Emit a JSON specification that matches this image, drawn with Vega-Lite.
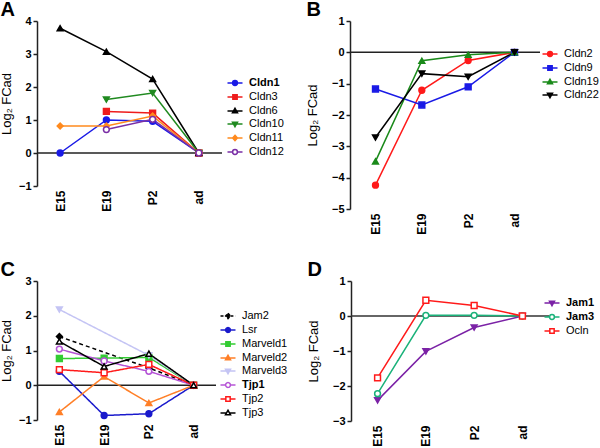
{
  "$schema": "https://vega.github.io/schema/vega-lite/v6.json",
  "padding": {"left": 0, "top": 0, "right": 0, "bottom": 0},
  "background": "white",
  "datasets": {
    "A": [
      {"series": "Cldn1", "stage": "E15", "value": 0},
      {"series": "Cldn1", "stage": "E19", "value": 1.0},
      {"series": "Cldn1", "stage": "P2", "value": 0.96},
      {"series": "Cldn1", "stage": "ad", "value": 0},
      {"series": "Cldn3", "stage": "E19", "value": 1.26},
      {"series": "Cldn3", "stage": "P2", "value": 1.21},
      {"series": "Cldn3", "stage": "ad", "value": 0},
      {"series": "Cldn6", "stage": "E15", "value": 3.78},
      {"series": "Cldn6", "stage": "E19", "value": 3.07},
      {"series": "Cldn6", "stage": "P2", "value": 2.24},
      {"series": "Cldn6", "stage": "ad", "value": 0},
      {"series": "Cldn10", "stage": "E19", "value": 1.62},
      {"series": "Cldn10", "stage": "P2", "value": 1.82},
      {"series": "Cldn10", "stage": "ad", "value": 0},
      {"series": "Cldn11", "stage": "E15", "value": 0.82},
      {"series": "Cldn11", "stage": "E19", "value": 0.82},
      {"series": "Cldn11", "stage": "P2", "value": 1.12},
      {"series": "Cldn11", "stage": "ad", "value": 0},
      {"series": "Cldn12", "stage": "E19", "value": 0.71},
      {"series": "Cldn12", "stage": "P2", "value": 1.02},
      {"series": "Cldn12", "stage": "ad", "value": 0}
    ],
    "B": [
      {"series": "Cldn2", "stage": "E15", "value": -4.24},
      {"series": "Cldn2", "stage": "E19", "value": -1.21},
      {"series": "Cldn2", "stage": "P2", "value": -0.26},
      {"series": "Cldn2", "stage": "ad", "value": 0},
      {"series": "Cldn9", "stage": "E15", "value": -1.17},
      {"series": "Cldn9", "stage": "E19", "value": -1.68},
      {"series": "Cldn9", "stage": "P2", "value": -1.1},
      {"series": "Cldn9", "stage": "ad", "value": 0},
      {"series": "Cldn19", "stage": "E15", "value": -3.48},
      {"series": "Cldn19", "stage": "E19", "value": -0.27},
      {"series": "Cldn19", "stage": "P2", "value": -0.08},
      {"series": "Cldn19", "stage": "ad", "value": 0},
      {"series": "Cldn22", "stage": "E15", "value": -2.72},
      {"series": "Cldn22", "stage": "E19", "value": -0.68},
      {"series": "Cldn22", "stage": "P2", "value": -0.78},
      {"series": "Cldn22", "stage": "ad", "value": 0}
    ],
    "C": [
      {"series": "Jam2", "stage": "E15", "value": 1.4},
      {"series": "Jam2", "stage": "P2", "value": 0.5},
      {"series": "Jam2", "stage": "ad", "value": 0},
      {"series": "Lsr", "stage": "E15", "value": 0.4},
      {"series": "Lsr", "stage": "E19", "value": -0.87},
      {"series": "Lsr", "stage": "P2", "value": -0.82},
      {"series": "Lsr", "stage": "ad", "value": 0},
      {"series": "Marveld1", "stage": "E15", "value": 0.77},
      {"series": "Marveld1", "stage": "E19", "value": 0.78},
      {"series": "Marveld1", "stage": "P2", "value": 0.8},
      {"series": "Marveld1", "stage": "ad", "value": 0},
      {"series": "Marveld2", "stage": "E15", "value": -0.77},
      {"series": "Marveld2", "stage": "E19", "value": 0.25},
      {"series": "Marveld2", "stage": "P2", "value": -0.51},
      {"series": "Marveld2", "stage": "ad", "value": 0},
      {"series": "Marveld3", "stage": "E15", "value": 2.18},
      {"series": "Marveld3", "stage": "P2", "value": 0.86},
      {"series": "Marveld3", "stage": "ad", "value": 0},
      {"series": "Tjp1", "stage": "E15", "value": 1.04},
      {"series": "Tjp1", "stage": "E19", "value": 0.7},
      {"series": "Tjp1", "stage": "P2", "value": 0.4},
      {"series": "Tjp1", "stage": "ad", "value": 0},
      {"series": "Tjp2", "stage": "E15", "value": 0.45},
      {"series": "Tjp2", "stage": "E19", "value": 0.36},
      {"series": "Tjp2", "stage": "P2", "value": 0.6},
      {"series": "Tjp2", "stage": "ad", "value": 0},
      {"series": "Tjp3", "stage": "E15", "value": 1.26},
      {"series": "Tjp3", "stage": "E19", "value": 0.54},
      {"series": "Tjp3", "stage": "P2", "value": 0.91},
      {"series": "Tjp3", "stage": "ad", "value": 0}
    ],
    "D": [
      {"series": "Jam1", "stage": "E15", "value": -2.41},
      {"series": "Jam1", "stage": "E19", "value": -1.01},
      {"series": "Jam1", "stage": "P2", "value": -0.33},
      {"series": "Jam1", "stage": "ad", "value": 0},
      {"series": "Jam3", "stage": "E15", "value": -2.22},
      {"series": "Jam3", "stage": "E19", "value": 0.02},
      {"series": "Jam3", "stage": "P2", "value": 0.02},
      {"series": "Jam3", "stage": "ad", "value": 0},
      {"series": "Ocln", "stage": "E15", "value": -1.77},
      {"series": "Ocln", "stage": "E19", "value": 0.45},
      {"series": "Ocln", "stage": "P2", "value": 0.3},
      {"series": "Ocln", "stage": "ad", "value": 0}
    ]
  },
  "spacing": 25,
  "resolve": {"scale": {"color": "independent", "shape": "independent", "fill": "independent", "stroke": "independent", "strokeDash": "independent"}, "legend": {"color": "independent", "shape": "independent", "fill": "independent", "stroke": "independent", "strokeDash": "independent"}},
  "vconcat": [
    {
      "spacing": 22,
      "resolve": {"scale": {"color": "independent", "shape": "independent", "fill": "independent", "stroke": "independent", "strokeDash": "independent"}, "legend": {"color": "independent", "shape": "independent", "fill": "independent", "stroke": "independent", "strokeDash": "independent"}},
      "hconcat": [
        {
          "width": 185,
          "height": 165,
          "title": {"text": "A"},
          "resolve": {"scale": {"shape": "independent", "fill": "independent", "stroke": "independent"}, "legend": {"shape": "independent", "fill": "independent", "stroke": "independent"}},
          "layer": [
            {
              "data": {"values": [{}]},
              "mark": {"type": "rule", "color": "#222", "strokeWidth": 1.5},
              "encoding": {"y": {"datum": 0, "type": "quantitative", "scale": {"domain": [-1, 4], "nice": false, "zero": false}, "axis": {"values": [-1, 0, 1, 2, 3, 4], "tickCount": 20, "format": "d", "title": "Log₂ FCad", "titleFontSize": 13, "labelOverlap": false, "labelBound": false}}}
            },
            {
              "data": {"name": "A"},
              "mark": {"type": "line", "strokeWidth": 1.5},
              "encoding": {
                "x": {"field": "stage", "type": "ordinal", "scale": {"type": "point", "domain": ["E15", "E19", "P2", "ad"], "padding": 0.5}, "axis": {"title": null}},
                "y": {"field": "value", "type": "quantitative", "scale": {"domain": [-1, 4], "nice": false, "zero": false}, "axis": {"values": [-1, 0, 1, 2, 3, 4], "tickCount": 20, "format": "d", "title": "Log₂ FCad", "titleFontSize": 13, "labelOverlap": false, "labelBound": false}},
                "color": {"field": "series", "type": "nominal", "scale": {"domain": ["Cldn1", "Cldn3", "Cldn6", "Cldn10", "Cldn11", "Cldn12"], "range": ["#1a1ae6", "#ee1c1c", "#000000", "#208a20", "#ff8a1e", "#7a2ea6"]}, "legend": null}
              }
            },
            {
              "data": {"name": "A"},
              "mark": {"type": "point", "filled": true, "opacity": 1, "size": 34, "strokeWidth": 1.5},
              "encoding": {
                "x": {"field": "stage", "type": "ordinal"},
                "y": {"field": "value", "type": "quantitative"},
                "shape": {"field": "series", "type": "nominal", "scale": {"domain": ["Cldn1", "Cldn3", "Cldn6", "Cldn10", "Cldn11", "Cldn12"], "range": ["circle", "square", "triangle-up", "triangle-down", "diamond", "circle"]}, "legend": null},
                "stroke": {"field": "series", "type": "nominal", "scale": {"domain": ["Cldn1", "Cldn3", "Cldn6", "Cldn10", "Cldn11", "Cldn12"], "range": ["#1a1ae6", "#ee1c1c", "#000000", "#208a20", "#ff8a1e", "#7a2ea6"]}, "legend": null},
                "fill": {"field": "series", "type": "nominal", "scale": {"domain": ["Cldn1", "Cldn3", "Cldn6", "Cldn10", "Cldn11", "Cldn12"], "range": ["#1a1ae6", "#ee1c1c", "#000000", "#208a20", "#ff8a1e", "white"]}, "legend": null}
              }
            },
            {
              "data": {"name": "A"},
              "mark": {"type": "point", "filled": true, "opacity": 0},
              "encoding": {
                "x": {"field": "stage", "type": "ordinal"},
                "y": {"field": "value", "type": "quantitative"},
                "shape": {"field": "series", "type": "nominal", "scale": {"domain": ["Cldn1", "Cldn3", "Cldn6", "Cldn10", "Cldn11", "Cldn12"], "range": ["M-1.25,0H-0.4M0.4,0H1.25M-0.4,0A0.4 0.4 0 1 0 0.4,0A0.4 0.4 0 1 0 -0.4,0Z", "M-1.25,0H-0.36M0.36,0H1.25M-0.36,-0.36H0.36V0.36H-0.36Z", "M-1.25,0H-0.3M0.3,0H1.25M0,-0.45L0.42,0.3H-0.42Z", "M-1.25,0H-0.3M0.3,0H1.25M0,0.45L0.42,-0.3H-0.42Z", "M-1.25,0H-0.4M0.4,0H1.25M0,-0.45L0.4,0L0,0.45L-0.4,0Z", "M-1.25,0H-0.4M0.4,0H1.25M-0.4,0A0.4 0.4 0 1 0 0.4,0A0.4 0.4 0 1 0 -0.4,0Z"]},
                  "legend": {"orient": "none", "legendX": 191, "legendY": 55, "symbolOpacity": 1, "encode": {"labels": {"update": {"fontWeight": {"signal": "datum.value === 'Cldn1' ? 'bold' : 'normal'"}}}}}},
                "stroke": {"field": "series", "type": "nominal", "scale": {"domain": ["Cldn1", "Cldn3", "Cldn6", "Cldn10", "Cldn11", "Cldn12"], "range": ["#1a1ae6", "#ee1c1c", "#000000", "#208a20", "#ff8a1e", "#7a2ea6"]},
                  "legend": {"orient": "none", "legendX": 191, "legendY": 55, "symbolOpacity": 1, "encode": {"labels": {"update": {"fontWeight": {"signal": "datum.value === 'Cldn1' ? 'bold' : 'normal'"}}}}}},
                "fill": {"field": "series", "type": "nominal", "scale": {"domain": ["Cldn1", "Cldn3", "Cldn6", "Cldn10", "Cldn11", "Cldn12"], "range": ["#1a1ae6", "#ee1c1c", "#000000", "#208a20", "#ff8a1e", "white"]},
                  "legend": {"orient": "none", "legendX": 191, "legendY": 55, "symbolOpacity": 1, "encode": {"labels": {"update": {"fontWeight": {"signal": "datum.value === 'Cldn1' ? 'bold' : 'normal'"}}}}}}
              }
            }
          ]
        },
        {
          "width": 190,
          "height": 188,
          "title": {"text": "B"},
          "resolve": {"scale": {"shape": "independent", "fill": "independent", "stroke": "independent"}, "legend": {"shape": "independent", "fill": "independent", "stroke": "independent"}},
          "layer": [
            {
              "data": {"values": [{}]},
              "mark": {"type": "rule", "color": "#222", "strokeWidth": 1.5},
              "encoding": {"y": {"datum": 0, "type": "quantitative", "scale": {"domain": [-5, 1], "nice": false, "zero": false}, "axis": {"values": [-5, -4, -3, -2, -1, 0, 1], "tickCount": 20, "format": "d", "title": "Log₂ FCad", "titleFontSize": 13, "titlePadding": 12, "labelOverlap": false, "labelBound": false}}}
            },
            {
              "data": {"name": "B"},
              "mark": {"type": "line", "strokeWidth": 1.5},
              "encoding": {
                "x": {"field": "stage", "type": "ordinal", "scale": {"type": "point", "domain": ["E15", "E19", "P2", "ad"], "padding": 0.55}, "axis": {"title": null}},
                "y": {"field": "value", "type": "quantitative", "scale": {"domain": [-5, 1], "nice": false, "zero": false}, "axis": {"values": [-5, -4, -3, -2, -1, 0, 1], "tickCount": 20, "format": "d", "title": "Log₂ FCad", "titleFontSize": 13, "titlePadding": 12, "labelOverlap": false, "labelBound": false}},
                "color": {"field": "series", "type": "nominal", "scale": {"domain": ["Cldn2", "Cldn9", "Cldn19", "Cldn22"], "range": ["#ff1a1a", "#1a1ae6", "#1a8a1a", "#000000"]}, "legend": null}
              }
            },
            {
              "data": {"name": "B"},
              "mark": {"type": "point", "filled": true, "opacity": 1, "size": 34, "strokeWidth": 1.5},
              "encoding": {
                "x": {"field": "stage", "type": "ordinal"},
                "y": {"field": "value", "type": "quantitative"},
                "shape": {"field": "series", "type": "nominal", "scale": {"domain": ["Cldn2", "Cldn9", "Cldn19", "Cldn22"], "range": ["circle", "square", "triangle-up", "triangle-down"]}, "legend": null},
                "stroke": {"field": "series", "type": "nominal", "scale": {"domain": ["Cldn2", "Cldn9", "Cldn19", "Cldn22"], "range": ["#ff1a1a", "#1a1ae6", "#1a8a1a", "#000000"]}, "legend": null},
                "fill": {"field": "series", "type": "nominal", "scale": {"domain": ["Cldn2", "Cldn9", "Cldn19", "Cldn22"], "range": ["#ff1a1a", "#1a1ae6", "#1a8a1a", "#000000"]}, "legend": null}
              }
            },
            {
              "data": {"name": "B"},
              "mark": {"type": "point", "filled": true, "opacity": 0},
              "encoding": {
                "x": {"field": "stage", "type": "ordinal"},
                "y": {"field": "value", "type": "quantitative"},
                "shape": {"field": "series", "type": "nominal", "scale": {"domain": ["Cldn2", "Cldn9", "Cldn19", "Cldn22"], "range": ["M-1.25,0H-0.4M0.4,0H1.25M-0.4,0A0.4 0.4 0 1 0 0.4,0A0.4 0.4 0 1 0 -0.4,0Z", "M-1.25,0H-0.36M0.36,0H1.25M-0.36,-0.36H0.36V0.36H-0.36Z", "M-1.25,0H-0.3M0.3,0H1.25M0,-0.45L0.42,0.3H-0.42Z", "M-1.25,0H-0.3M0.3,0H1.25M0,0.45L0.42,-0.3H-0.42Z"]},
                  "legend": {"orient": "none", "legendX": 193, "legendY": 26, "symbolOpacity": 1}},
                "stroke": {"field": "series", "type": "nominal", "scale": {"domain": ["Cldn2", "Cldn9", "Cldn19", "Cldn22"], "range": ["#ff1a1a", "#1a1ae6", "#1a8a1a", "#000000"]},
                  "legend": {"orient": "none", "legendX": 193, "legendY": 26, "symbolOpacity": 1}},
                "fill": {"field": "series", "type": "nominal", "scale": {"domain": ["Cldn2", "Cldn9", "Cldn19", "Cldn22"], "range": ["#ff1a1a", "#1a1ae6", "#1a8a1a", "#000000"]},
                  "legend": {"orient": "none", "legendX": 193, "legendY": 26, "symbolOpacity": 1}}
              }
            }
          ]
        }
      ]
    },
    {
      "spacing": 19,
      "resolve": {"scale": {"color": "independent", "shape": "independent", "fill": "independent", "stroke": "independent", "strokeDash": "independent"}, "legend": {"color": "independent", "shape": "independent", "fill": "independent", "stroke": "independent", "strokeDash": "independent"}},
      "hconcat": [
        {
          "width": 179,
          "height": 139,
          "title": {"text": "C"},
          "resolve": {"scale": {"shape": "independent", "fill": "independent", "stroke": "independent", "strokeDash": "independent"}, "legend": {"shape": "independent", "fill": "independent", "stroke": "independent", "strokeDash": "independent"}},
          "layer": [
            {
              "data": {"values": [{}]},
              "mark": {"type": "rule", "color": "#222", "strokeWidth": 1.5},
              "encoding": {"y": {"datum": 0, "type": "quantitative", "scale": {"domain": [-1, 3], "nice": false, "zero": false}, "axis": {"values": [-1, 0, 1, 2, 3], "tickCount": 20, "format": "d", "title": "Log₂ FCad", "titleFontSize": 13, "labelOverlap": false, "labelBound": false}}}
            },
            {
              "data": {"name": "C"},
              "mark": {"type": "line", "strokeWidth": 1.5},
              "encoding": {
                "x": {"field": "stage", "type": "ordinal", "scale": {"type": "point", "domain": ["E15", "E19", "P2", "ad"], "padding": 0.5}, "axis": {"title": null}},
                "y": {"field": "value", "type": "quantitative", "scale": {"domain": [-1, 3], "nice": false, "zero": false}, "axis": {"values": [-1, 0, 1, 2, 3], "tickCount": 20, "format": "d", "title": "Log₂ FCad", "titleFontSize": 13, "labelOverlap": false, "labelBound": false}},
                "strokeDash": {"condition": {"test": "datum.series === 'Jam2'", "value": [4, 3]}, "value": [1, 0]},
                "color": {"field": "series", "type": "nominal", "scale": {"domain": ["Jam2", "Lsr", "Marveld1", "Marveld2", "Marveld3", "Tjp1", "Tjp2", "Tjp3"], "range": ["#000000", "#1a1acc", "#33cc33", "#ff7f27", "#c4c4f4", "#b554d6", "#ff1a1a", "#000000"]}, "legend": null}
              }
            },
            {
              "data": {"name": "C"},
              "mark": {"type": "point", "filled": true, "opacity": 1, "size": 34, "strokeWidth": 1.5},
              "encoding": {
                "x": {"field": "stage", "type": "ordinal"},
                "y": {"field": "value", "type": "quantitative"},
                "shape": {"field": "series", "type": "nominal", "scale": {"domain": ["Jam2", "Lsr", "Marveld1", "Marveld2", "Marveld3", "Tjp1", "Tjp2", "Tjp3"], "range": ["diamond", "circle", "square", "triangle-up", "triangle-down", "circle", "square", "triangle-up"]}, "legend": null},
                "stroke": {"field": "series", "type": "nominal", "scale": {"domain": ["Jam2", "Lsr", "Marveld1", "Marveld2", "Marveld3", "Tjp1", "Tjp2", "Tjp3"], "range": ["#000000", "#1a1acc", "#33cc33", "#ff7f27", "#c4c4f4", "#b554d6", "#ff1a1a", "#000000"]}, "legend": null},
                "fill": {"field": "series", "type": "nominal", "scale": {"domain": ["Jam2", "Lsr", "Marveld1", "Marveld2", "Marveld3", "Tjp1", "Tjp2", "Tjp3"], "range": ["#000000", "#1a1acc", "#33cc33", "#ff7f27", "#c4c4f4", "white", "white", "white"]}, "legend": null}
              }
            },
            {
              "data": {"name": "C"},
              "mark": {"type": "point", "filled": true, "opacity": 0},
              "encoding": {
                "x": {"field": "stage", "type": "ordinal"},
                "y": {"field": "value", "type": "quantitative"},
                "shape": {"field": "series", "type": "nominal", "scale": {"domain": ["Jam2", "Lsr", "Marveld1", "Marveld2", "Marveld3", "Tjp1", "Tjp2", "Tjp3"], "range": ["M-1.25,0H-0.4M0.4,0H1.25M0,-0.45L0.4,0L0,0.45L-0.4,0Z", "M-1.25,0H-0.4M0.4,0H1.25M-0.4,0A0.4 0.4 0 1 0 0.4,0A0.4 0.4 0 1 0 -0.4,0Z", "M-1.25,0H-0.36M0.36,0H1.25M-0.36,-0.36H0.36V0.36H-0.36Z", "M-1.25,0H-0.3M0.3,0H1.25M0,-0.45L0.42,0.3H-0.42Z", "M-1.25,0H-0.3M0.3,0H1.25M0,0.45L0.42,-0.3H-0.42Z", "M-1.25,0H-0.4M0.4,0H1.25M-0.4,0A0.4 0.4 0 1 0 0.4,0A0.4 0.4 0 1 0 -0.4,0Z", "M-1.25,0H-0.36M0.36,0H1.25M-0.36,-0.36H0.36V0.36H-0.36Z", "M-1.25,0H-0.3M0.3,0H1.25M0,-0.45L0.42,0.3H-0.42Z"]},
                  "legend": {"orient": "none", "legendX": 184, "legendY": 28, "symbolOpacity": 1, "encode": {"labels": {"update": {"fontWeight": {"signal": "datum.value === 'Tjp1' ? 'bold' : 'normal'"}}}}}},
                "stroke": {"field": "series", "type": "nominal", "scale": {"domain": ["Jam2", "Lsr", "Marveld1", "Marveld2", "Marveld3", "Tjp1", "Tjp2", "Tjp3"], "range": ["#000000", "#1a1acc", "#33cc33", "#ff7f27", "#c4c4f4", "#b554d6", "#ff1a1a", "#000000"]},
                  "legend": {"orient": "none", "legendX": 184, "legendY": 28, "symbolOpacity": 1, "encode": {"labels": {"update": {"fontWeight": {"signal": "datum.value === 'Tjp1' ? 'bold' : 'normal'"}}}}}},
                "fill": {"field": "series", "type": "nominal", "scale": {"domain": ["Jam2", "Lsr", "Marveld1", "Marveld2", "Marveld3", "Tjp1", "Tjp2", "Tjp3"], "range": ["#000000", "#1a1acc", "#33cc33", "#ff7f27", "#c4c4f4", "white", "white", "white"]},
                  "legend": {"orient": "none", "legendX": 184, "legendY": 28, "symbolOpacity": 1, "encode": {"labels": {"update": {"fontWeight": {"signal": "datum.value === 'Tjp1' ? 'bold' : 'normal'"}}}}}},
                "strokeDash": {"field": "series", "type": "nominal", "scale": {"domain": ["Jam2", "Lsr", "Marveld1", "Marveld2", "Marveld3", "Tjp1", "Tjp2", "Tjp3"], "range": [[3, 2], [1, 0], [1, 0], [1, 0], [1, 0], [1, 0], [1, 0], [1, 0]]},
                  "legend": {"orient": "none", "legendX": 184, "legendY": 28, "symbolOpacity": 1, "encode": {"labels": {"update": {"fontWeight": {"signal": "datum.value === 'Tjp1' ? 'bold' : 'normal'"}}}}}}
              }
            }
          ]
        },
        {
          "width": 198,
          "height": 140,
          "title": {"text": "D"},
          "resolve": {"scale": {"shape": "independent", "fill": "independent", "stroke": "independent"}, "legend": {"shape": "independent", "fill": "independent", "stroke": "independent"}},
          "layer": [
            {
              "data": {"values": [{}]},
              "mark": {"type": "rule", "color": "#333", "strokeWidth": 1.5},
              "encoding": {"y": {"datum": 0, "type": "quantitative", "scale": {"domain": [-3, 1], "nice": false, "zero": false}, "axis": {"values": [-3, -2, -1, 0, 1], "tickCount": 20, "format": "d", "title": "Log₂ FCad", "titleFontSize": 13, "titlePadding": 12, "labelOverlap": false, "labelBound": false}}}
            },
            {
              "data": {"name": "D"},
              "mark": {"type": "line", "strokeWidth": 1.5},
              "encoding": {
                "x": {"field": "stage", "type": "ordinal", "scale": {"type": "point", "domain": ["E15", "E19", "P2", "ad"], "padding": 0.55}, "axis": {"title": null}},
                "y": {"field": "value", "type": "quantitative", "scale": {"domain": [-3, 1], "nice": false, "zero": false}, "axis": {"values": [-3, -2, -1, 0, 1], "tickCount": 20, "format": "d", "title": "Log₂ FCad", "titleFontSize": 13, "titlePadding": 12, "labelOverlap": false, "labelBound": false}},
                "color": {"field": "series", "type": "nominal", "scale": {"domain": ["Jam1", "Jam3", "Ocln"], "range": ["#7b22a6", "#1ab27a", "#ff1a1a"]}, "legend": null}
              }
            },
            {
              "data": {"name": "D"},
              "mark": {"type": "point", "filled": true, "opacity": 1, "size": 34, "strokeWidth": 1.5},
              "encoding": {
                "x": {"field": "stage", "type": "ordinal"},
                "y": {"field": "value", "type": "quantitative"},
                "shape": {"field": "series", "type": "nominal", "scale": {"domain": ["Jam1", "Jam3", "Ocln"], "range": ["triangle-down", "circle", "square"]}, "legend": null},
                "stroke": {"field": "series", "type": "nominal", "scale": {"domain": ["Jam1", "Jam3", "Ocln"], "range": ["#7b22a6", "#1ab27a", "#ff1a1a"]}, "legend": null},
                "fill": {"field": "series", "type": "nominal", "scale": {"domain": ["Jam1", "Jam3", "Ocln"], "range": ["#7b22a6", "white", "white"]}, "legend": null}
              }
            },
            {
              "data": {"name": "D"},
              "mark": {"type": "point", "filled": true, "opacity": 0},
              "encoding": {
                "x": {"field": "stage", "type": "ordinal"},
                "y": {"field": "value", "type": "quantitative"},
                "shape": {"field": "series", "type": "nominal", "scale": {"domain": ["Jam1", "Jam3", "Ocln"], "range": ["M-1.25,0H-0.3M0.3,0H1.25M0,0.45L0.42,-0.3H-0.42Z", "M-1.25,0H-0.4M0.4,0H1.25M-0.4,0A0.4 0.4 0 1 0 0.4,0A0.4 0.4 0 1 0 -0.4,0Z", "M-1.25,0H-0.36M0.36,0H1.25M-0.36,-0.36H0.36V0.36H-0.36Z"]},
                  "legend": {"orient": "none", "legendX": 194, "legendY": 15, "symbolOpacity": 1, "encode": {"labels": {"update": {"fontWeight": {"signal": "datum.value === 'Ocln' ? 'normal' : 'bold'"}}}}}},
                "stroke": {"field": "series", "type": "nominal", "scale": {"domain": ["Jam1", "Jam3", "Ocln"], "range": ["#7b22a6", "#1ab27a", "#ff1a1a"]},
                  "legend": {"orient": "none", "legendX": 194, "legendY": 15, "symbolOpacity": 1, "encode": {"labels": {"update": {"fontWeight": {"signal": "datum.value === 'Ocln' ? 'normal' : 'bold'"}}}}}},
                "fill": {"field": "series", "type": "nominal", "scale": {"domain": ["Jam1", "Jam3", "Ocln"], "range": ["#7b22a6", "white", "white"]},
                  "legend": {"orient": "none", "legendX": 194, "legendY": 15, "symbolOpacity": 1, "encode": {"labels": {"update": {"fontWeight": {"signal": "datum.value === 'Ocln' ? 'normal' : 'bold'"}}}}}}
              }
            }
          ]
        }
      ]
    }
  ],
  "config": {
    "font": "Liberation Sans",
    "view": {"stroke": null},
    "title": {"anchor": "start", "frame": "bounds", "fontSize": 20, "fontWeight": "bold", "color": "black", "offset": -8, "dy": -3},
    "axisY": {"domainColor": "#222", "domainWidth": 1.5, "tickColor": "#222", "tickWidth": 1.5, "tickSize": 4, "tickCount": 20, "format": "d", "labelFontWeight": "bold", "labelFontSize": 11, "labelColor": "black", "grid": false, "titleFontSize": 13, "titleFontWeight": "normal", "titleColor": "black", "labelPadding": 2, "titlePadding": 5, "labelOverlap": false},
    "axisX": {"domain": false, "ticks": false, "grid": false, "labelAngle": -90, "labelFontWeight": "bold", "labelFontSize": 12, "labelColor": "black", "labelPadding": 4},
    "legend": {"title": null, "labelFontSize": 11, "labelColor": "black", "symbolSize": 144, "symbolStrokeWidth": 1.5, "rowPadding": 1, "labelOffset": 7, "padding": 0}
  }
}
